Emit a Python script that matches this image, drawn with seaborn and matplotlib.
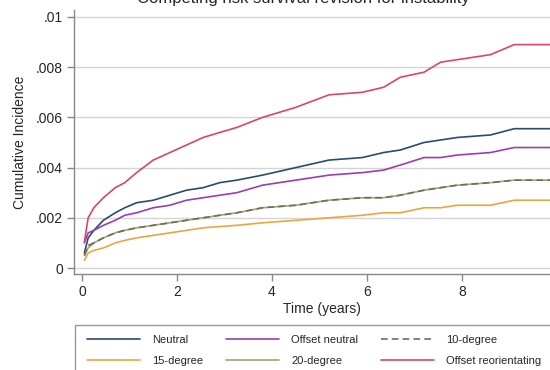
import pandas as pd
import matplotlib
matplotlib.use("Agg")
import matplotlib.pyplot as plt
from matplotlib.patches import Rectangle
import seaborn as sns

sns.set_style("white")
plt.rcParams['font.family'] = ['Liberation Sans', 'DejaVu Sans']

time = [0.05, 0.13, 0.25, 0.45, 0.7, 0.9, 1.15, 1.5, 1.85, 2.2, 2.55, 2.9, 3.26,
        3.8, 4.5, 5.2, 5.9, 6.35, 6.7, 7.2, 7.55, 7.9, 8.6, 9.1, 9.9]

neutral = [.0006, .0012, .0015, .0019, .0022, .0024, .0026, .0027, .0029, .0031, .0032, .0034, .0035,
           .0037, .0040, .0043, .0044, .0046, .0047, .0050, .0051, .0052, .0053, .00555, .00555]
offset_neutral = [.0010, .0014, .0015, .0017, .0019, .0021, .0022, .0024, .0025, .0027, .0028, .0029, .0030,
                  .0033, .0035, .0037, .0038, .0039, .0041, .0044, .0044, .0045, .0046, .0048, .0048]
deg10 = [.0005, .0009, .0010, .0012, .0014, .0015, .0016, .0017, .0018, .0019, .0020, .0021, .0022,
         .0024, .0025, .0027, .0028, .0028, .0029, .0031, .0032, .0033, .0034, .0035, .0035]
deg15 = [.0003, .0006, .0007, .0008, .0010, .0011, .0012, .0013, .0014, .0015, .0016, .00165, .0017,
         .0018, .0019, .0020, .0021, .0022, .0022, .0024, .0024, .0025, .0025, .0027, .0027]
deg20 = [.0005, .0008, .0010, .0012, .0014, .0015, .0016, .0017, .0018, .0019, .0020, .0021, .0022,
         .0024, .0025, .0027, .0028, .0028, .0029, .0031, .0032, .0033, .0034, .0035, .0035]
offset_reor = [.00104, .0020, .0024, .0028, .0032, .0034, .0038, .0043, .0046, .0049, .0052, .0054, .0056,
               .0060, .0064, .0069, .0070, .0072, .0076, .0078, .0082, .0083, .0085, .0089, .0089]

yticks = [0, .002, .004, .006, .008, .01]
ytick_labels = ['0', '.002', '.004', '.006', '.008', '.01']
xticks = [0, 2, 4, 6, 8, 10]

series = [
    ('Neutral', neutral, '#2c4a70', '-'),
    ('15-degree', deg15, '#e9a640', '-'),
    ('Offset neutral', offset_neutral, '#9a3eae', '-'),
    ('20-degree', deg20, '#a8a26c', '-'),
    ('10-degree', deg10, '#66705a', (0, (4, 2.5))),
    ('Offset reorientating', offset_reor, '#d8466c', '-'),
]

fig = plt.figure(figsize=(5.5, 3.7), dpi=100)
ax = fig.add_axes([74 / 550, 96 / 370, 496 / 550, 264 / 370])

handles = []
for name, vals, col, ls in series:
    df = pd.DataFrame({'time': time, 'ci': vals})
    sns.lineplot(data=df, x='time', y='ci', ax=ax, color=col, linestyle=ls,
                 linewidth=1.2, estimator=None, sort=False)
    handles.append(ax.lines[-1])

ax.set_xlim(-8 / 47.5, 488 / 47.5)
ax.set_ylim(-6 * 0.002 / 50.2, 0.01 + 7 * 0.002 / 50.2)
ax.set_yticks(yticks)
ax.set_yticklabels(ytick_labels)
ax.set_xticks(xticks)
ax.yaxis.grid(True, color='#d4d4d4', linewidth=1)
ax.xaxis.grid(False)
for s in ['top', 'right']:
    ax.spines[s].set_visible(False)
for s in ['left', 'bottom']:
    ax.spines[s].set_color('#888888')
    ax.spines[s].set_linewidth(1)
ax.tick_params(axis='both', direction='out', length=5, width=1, color='#888888',
               labelsize=10, left=True, bottom=True, pad=3)
ax.set_xlabel('Time (years)', fontsize=10, labelpad=2)
ax.set_ylabel('Cumulative Incidence', fontsize=10, labelpad=6)

fig.text(303 / 550, 1 - 3 / 370, 'Competing risk survival revision for instability',
         ha='center', va='baseline', fontsize=12)

fig.patches.append(Rectangle((75 / 550, -0.05), 0.9, (370 - 325) / 370 + 0.05,
                             transform=fig.transFigure, fill=False,
                             edgecolor='#999999', linewidth=1))
fig.legend(handles, [s[0] for s in series], ncol=3, loc='upper left',
           bbox_to_anchor=(77 / 550, 1 - 325 / 370), frameon=False,
           fontsize=8, handlelength=4.8, columnspacing=2.0, handletextpad=1.1,
           labelspacing=1.0)

fig.savefig('out.png', dpi=100)
